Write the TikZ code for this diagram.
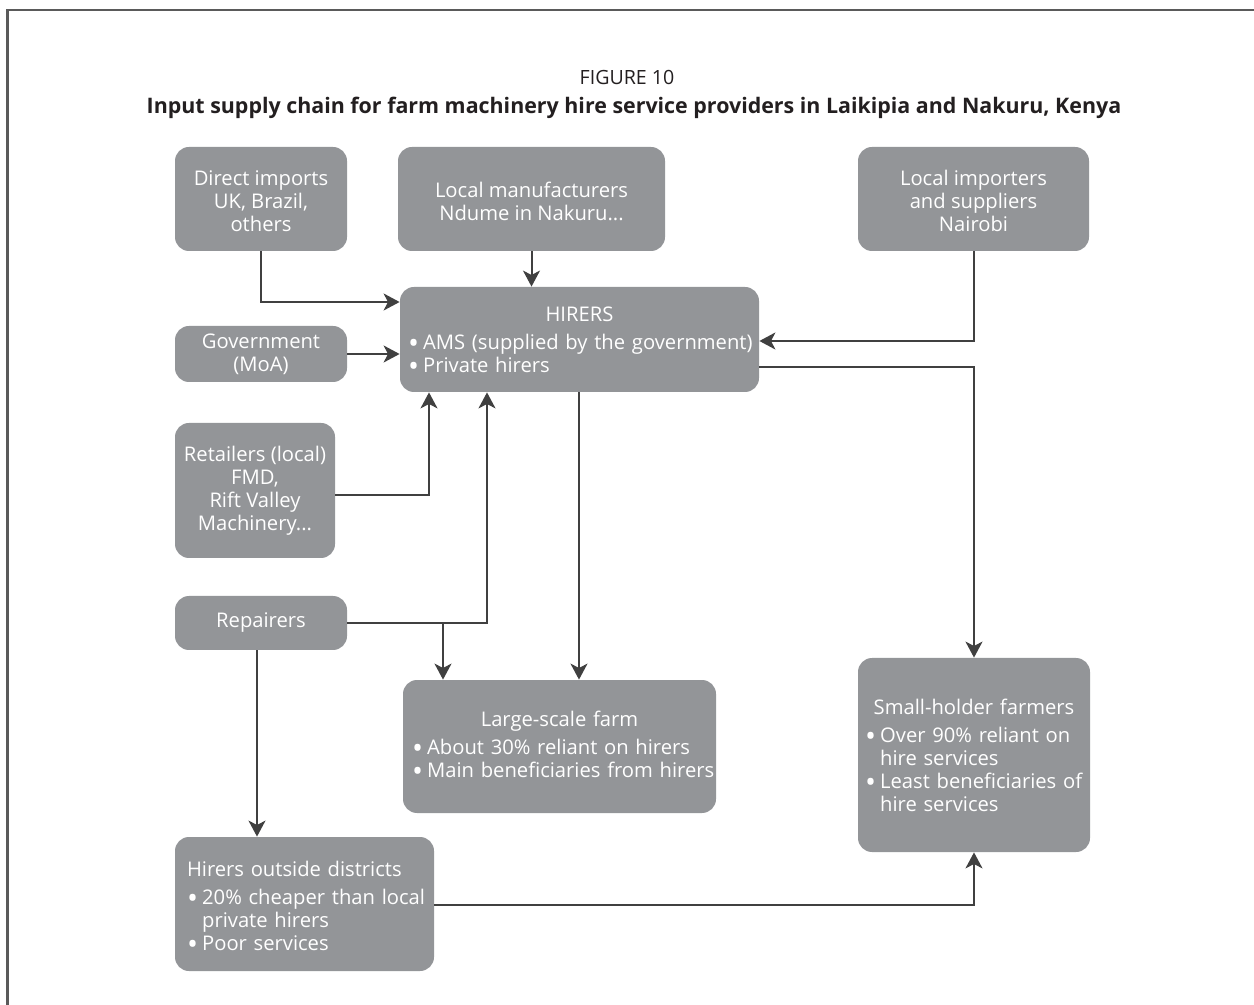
\documentclass[tikz,border=0pt]{standalone}
\usepackage{fontspec}
\setmainfont{Open Sans}
\usetikzlibrary{arrows.meta}
\setlength{\parskip}{0pt}
\definecolor{boxgray}{RGB}{147,149,152}
\definecolor{linegray}{RGB}{64,64,64}
\definecolor{framegray}{RGB}{90,90,90}
\definecolor{titleink}{RGB}{35,31,32}
% one bulleted line, and a wrapped continuation line under its text
\newcommand{\bline}[1]{\par\noindent\makebox[0.75em][l]{\raisebox{-0.2em}{\scalebox{1.45}{•}}}\mbox{#1}}
\newcommand{\contline}[1]{\par\noindent\hspace*{0.75em}\mbox{#1}}
\newcommand{\headline}[1]{{\centering #1\par}\vspace{2.5pt}}
\tikzset{
  box/.style={rectangle, rounded corners=7pt, fill=boxgray, text=white,
    inner sep=0pt, font=\fontsize{10.1}{11.5}\selectfont, align=center},
  listbox/.style={box, align=left},
  arr/.style={draw=linegray, line width=1pt,
    -{Stealth[length=8pt,width=8.5pt,inset=2.2pt]}}
}
\begin{document}
\begin{tikzpicture}[x=0.5pt,y=-0.5pt]
\useasboundingbox (0,0) rectangle (1254,1005);
% outer frame
\draw[framegray, line width=1.3pt] (7.5,1010) -- (7.5,10) -- (1260,10);

% title
\node[font=\fontsize{9.8}{11}\selectfont, text=titleink] (fig) at (627,77) {FIGURE 10};
\node[font=\fontsize{10.7}{12}\selectfont\bfseries, text=titleink] (title) at (634,108)
  {Input supply chain for farm machinery hire service providers in Laikipia and Nakuru, Kenya};

% boxes
\node[box, minimum width=86pt, minimum height=52pt] (direct) at (261,199)
  {\rule{0pt}{10pt}Direct imports\\UK, Brazil,\\others};
\node[box, minimum width=133.5pt, minimum height=52pt] (manuf) at (531.5,199)
  {\rule{0pt}{10pt}Local manufacturers\\Ndume in Nakuru...};
\node[box, minimum width=115.5pt, minimum height=52pt] (importers) at (973.5,199)
  {\rule{0pt}{10pt}Local importers\\and suppliers\\Nairobi};
\node[box, minimum width=86pt, minimum height=28pt] (gov) at (261,354)
  {Government\\(MoA)};
\node[listbox, minimum width=179.5pt, minimum height=52.5pt, text width=171.5pt] (hirers) at (579.5,339.5)
  {\headline{\rule{0pt}{9.5pt}HIRERS}%
   \bline{AMS (supplied by the government)}%
   \bline{Private hirers}};
\node[box, minimum width=80pt, minimum height=67.5pt] (retail) at (255,490.5)
  {Retailers (local)\\FMD,\\Rift Valley\\Machinery...};
\node[box, minimum width=86pt, minimum height=27pt] (repair) at (261,623)
  {Repairers};
\node[listbox, minimum width=156.5pt, minimum height=66.5pt, text width=147.5pt] (large) at (559.5,746.5)
  {\headline{Large-scale farm}%
   \bline{About 30\% reliant on hirers}%
   \bline{Main beneficiaries from hirers}};
\node[listbox, minimum width=116pt, minimum height=97pt, text width=109pt] (small) at (974,755)
  {\headline{Small-holder farmers}%
   \bline{Over 90\% reliant on}%
   \contline{hire services}%
   \bline{Least beneficiaries of}%
   \contline{hire services}};
\node[listbox, minimum width=129.5pt, minimum height=67pt, text width=117.5pt] (outside) at (304.5,904)
  {\noindent\rule{0pt}{11.5pt}Hirers outside districts\par\vspace{2.5pt}%
   \bline{20\% cheaper than local}%
   \contline{private hirers}%
   \bline{Poor services}};

% connectors into HIRERS
\draw[arr] (direct.south) |- (hirers.west |- 0,302);
\draw[arr] (manuf.south) -- (manuf.south |- hirers.north);
\draw[arr] (importers.south) |- (hirers.east |- 0,341);
\draw[arr] (gov.east) -- (hirers.west |- gov.east);
\draw[arr] (retail.east |- 0,495) -| (hirers.south -| 429,0);
\draw[arr] (repair.east) -| (hirers.south -| 487,0);
\coordinate (split) at (443,623);
\draw[arr] (split) -- (large.north -| split);

% connectors out of HIRERS
\draw[arr] (hirers.south -| 579,0) -- (large.north -| 579,0);
\draw[arr] (hirers.east |- 0,367) -| (small.north);

% repairers to outside hirers, and on to small-holders
\draw[arr] (repair.south -| 257,0) -- (outside.north -| 257,0);
\draw[arr] (outside.east |- 0,905) -| (small.south);
\end{tikzpicture}
\end{document}
